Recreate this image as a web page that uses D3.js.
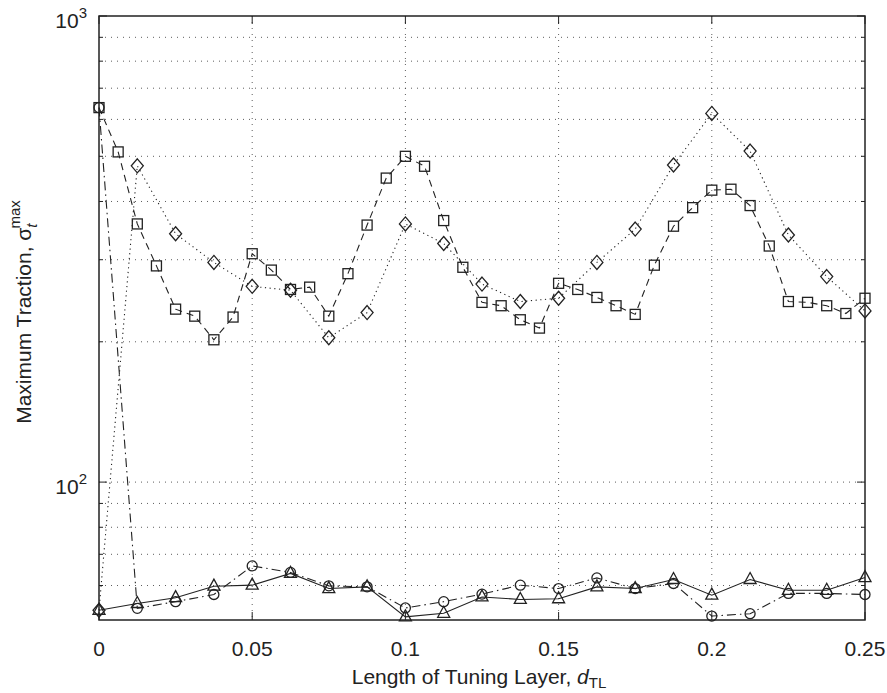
<!DOCTYPE html>
<html>
<head>
<meta charset="utf-8">
<script src="https://cdn.jsdelivr.net/npm/d3@7/dist/d3.min.js"></script>
<style>
  html, body { margin: 0; padding: 0; background: #fff; }
  svg { display: block; font-family: "Liberation Sans", Arial, Helvetica, sans-serif; }
</style>
</head>
<body>
<svg id="chart" width="887" height="693"></svg>
<script>
// ---- data ----
const xFine = d3.range(41).map(i => i * 0.00625);
const xCoarse = d3.range(21).map(i => i * 0.0125);

const squareVals = [636, 511, 358, 291, 235, 227, 202, 226, 309, 285, 259, 262, 227, 280, 356,
  449, 500, 476, 364, 289, 243, 239, 223, 214, 267, 259, 249, 239, 229,
  292, 354, 388, 423, 425, 392, 321, 244, 243, 239, 230, 248];
const diamondVals = [53.1, 477, 341, 296, 263, 258, 204, 231, 358, 325, 266, 244, 248, 296, 349,
  479, 618, 513, 339, 276, 233];
const circleVals = [636, 53.6, 55.4, 57.4, 66.1, 64.0, 59.9, 59.6, 53.7, 55.4, 57.5, 60.1, 59.1, 62.3, 59.1,
  60.6, 51.6, 52.2, 57.7, 57.7, 57.4];
const triangleVals = [53.1, 54.9, 56.5, 59.8, 60.1, 63.7, 59.1, 59.6, 51.4, 52.3, 56.7, 56.0, 56.2, 59.6, 59.1,
  61.8, 57.2, 61.8, 58.6, 58.6, 62.4];

const xTicks = [0, 0.05, 0.1, 0.15, 0.2, 0.25];
const xTickLabels = ["0", "0.05", "0.1", "0.15", "0.2", "0.25"];
const yMajor = [100, 1000];
const yMinor = [60, 70, 80, 90, 200, 300, 400, 500, 600, 700, 800, 900];

// ---- layout ----
const L = 99, R = 865, T = 16, B = 620;
const svg = d3.select("#chart");
const x = d3.scaleLinear().domain([0, 0.25]).range([L, R]);
const y = d3.scaleLog().domain([50.6, 1000]).range([B, T]);
const ink = "#222";
const FS = 21, FSS = 15;

// grid
const grid = svg.append("g").attr("stroke", "#333").attr("stroke-width", 0.8)
  .attr("stroke-dasharray", "1,5");
xTicks.slice(1, -1).forEach(t => grid.append("line")
  .attr("x1", x(t)).attr("x2", x(t)).attr("y1", T).attr("y2", B));
yMinor.concat([100]).forEach(v => grid.append("line")
  .attr("x1", L).attr("x2", R).attr("y1", y(v)).attr("y2", y(v)));

// axes ticks (inward)
const ax = svg.append("g").attr("stroke", ink).attr("stroke-width", 1);
xTicks.forEach(t => {
  ax.append("line").attr("x1", x(t)).attr("x2", x(t)).attr("y1", B).attr("y2", B - 8);
  ax.append("line").attr("x1", x(t)).attr("x2", x(t)).attr("y1", T).attr("y2", T + 8);
});
yMajor.forEach(v => {
  ax.append("line").attr("x1", L).attr("x2", L + 8).attr("y1", y(v)).attr("y2", y(v));
  ax.append("line").attr("x1", R).attr("x2", R - 8).attr("y1", y(v)).attr("y2", y(v));
});
yMinor.forEach(v => {
  ax.append("line").attr("x1", L).attr("x2", L + 4).attr("y1", y(v)).attr("y2", y(v));
  ax.append("line").attr("x1", R).attr("x2", R - 4).attr("y1", y(v)).attr("y2", y(v));
});

// tick labels
const lab = svg.append("g").attr("fill", ink).attr("font-size", FS);
xTicks.forEach((t, i) => lab.append("text").attr("x", x(t)).attr("y", B + 36)
  .attr("text-anchor", "middle").text(xTickLabels[i]));
yMajor.forEach(v => {
  const tx = lab.append("text").attr("x", L - 12).attr("y", y(v) + 12).attr("text-anchor", "end");
  tx.append("tspan").text("10");
  tx.append("tspan").attr("dy", -10).attr("font-size", FSS).text(String(Math.round(Math.log10(v))));
});

// axis titles
const xt = svg.append("text").attr("x", (L + R) / 2 - 3).attr("y", 684).attr("text-anchor", "middle")
  .attr("fill", ink).attr("font-size", FS);
xt.append("tspan").text("Length of Tuning Layer, ");
xt.append("tspan").attr("font-style", "italic").text("d");
xt.append("tspan").attr("dy", 4).attr("font-size", FSS).text("TL");

const yt = svg.append("text").attr("transform", `translate(31,${(T + B) / 2 - 6}) rotate(-90)`)
  .attr("text-anchor", "middle").attr("fill", ink).attr("font-size", FS);
yt.append("tspan").text("Maximum Traction, σ");
yt.append("tspan").attr("dy", 6).attr("font-size", FSS).attr("font-style", "italic").text("t");
yt.append("tspan").attr("dx", -5).attr("dy", -17).attr("font-size", FSS).text("max");

// series
const series = [
  { xs: xFine, vals: squareVals, dash: "7,5", shape: "square" },
  { xs: xCoarse, vals: diamondVals, dash: "1.2,3.5", shape: "diamond" },
  { xs: xCoarse, vals: circleVals, dash: "9,4,1.5,4", shape: "circle" },
  { xs: xCoarse, vals: triangleVals, dash: null, shape: "triangle" }
];
const line = d3.line().x(d => x(d[0])).y(d => y(d[1]));
const plot = svg.append("g");
series.forEach(s => {
  const pts = s.xs.map((t, i) => [t, s.vals[i]]);
  plot.append("path").attr("d", line(pts)).attr("fill", "none").attr("stroke", ink)
    .attr("stroke-width", 1.1).attr("stroke-dasharray", s.dash);
  const g = plot.append("g").attr("fill", "none").attr("stroke", ink).attr("stroke-width", 1.3);
  pts.forEach(p => {
    const cx = x(p[0]), cy = y(p[1]);
    if (s.shape === "square") {
      g.append("rect").attr("x", cx - 5).attr("y", cy - 5).attr("width", 10).attr("height", 10);
    } else if (s.shape === "circle") {
      g.append("circle").attr("cx", cx).attr("cy", cy).attr("r", 5);
    } else if (s.shape === "diamond") {
      g.append("path").attr("d", `M${cx},${cy - 7}L${cx + 6},${cy}L${cx},${cy + 7}L${cx - 6},${cy}Z`);
    } else {
      g.append("path").attr("d", `M${cx},${cy - 7}L${cx + 6},${cy + 4}L${cx - 6},${cy + 4}Z`);
    }
  });
});

// frame
svg.append("rect").attr("x", L).attr("y", T).attr("width", R - L).attr("height", B - T)
  .attr("fill", "none").attr("stroke", ink).attr("stroke-width", 1.5);
</script>
</body>
</html>
